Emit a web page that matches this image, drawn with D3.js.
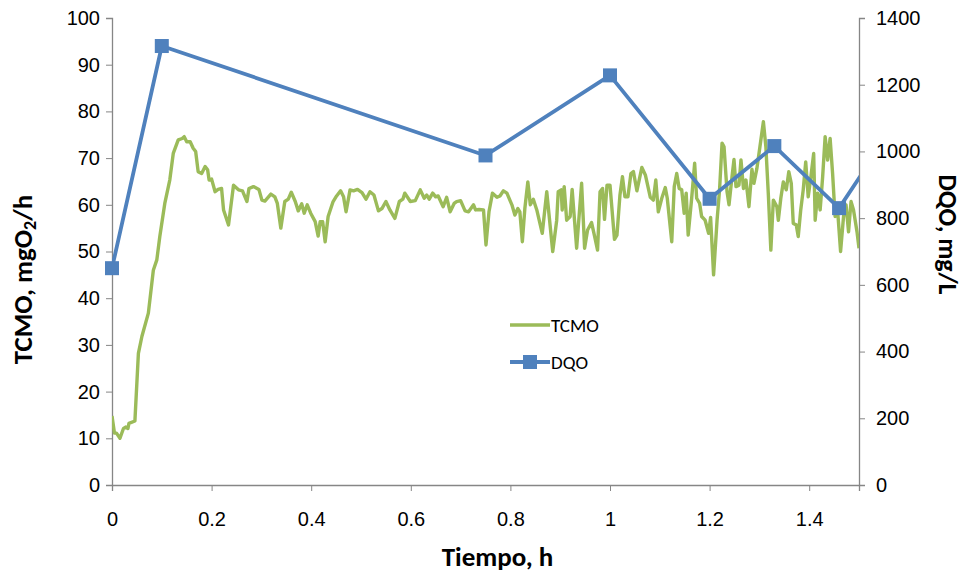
<!DOCTYPE html>
<html>
<head>
<meta charset="utf-8">
<script src="https://cdn.jsdelivr.net/npm/d3@7"></script>
<style>
  body { margin: 0; background: #fff; }
  svg { font-family: Carlito, "Open Sans", "Liberation Sans", sans-serif; }
  .axis path, .axis line { stroke: #868686; }
  .axis text { fill: #000; font-size: 20px; }
</style>
</head>
<body>
<svg id="chart" width="965" height="574"></svg>
<script>
// TCMO (mgO2/h) vs time (h)
const tcmoTime = [
  0.000, 0.005, 0.009, 0.016, 0.023, 0.028, 0.032, 0.034, 0.046, 0.053,
  0.060, 0.073, 0.083, 0.090, 0.096, 0.106, 0.116, 0.123, 0.133, 0.141,
  0.145, 0.150, 0.157, 0.163, 0.168, 0.173, 0.180, 0.187, 0.192, 0.195,
  0.200, 0.207, 0.213, 0.220, 0.224, 0.234, 0.244, 0.254, 0.262, 0.271,
  0.275, 0.284, 0.295, 0.301, 0.307, 0.319, 0.327, 0.332, 0.339, 0.347,
  0.354, 0.360, 0.368, 0.374, 0.381, 0.386, 0.392, 0.399, 0.408, 0.414,
  0.418, 0.423, 0.428, 0.434, 0.444, 0.451, 0.459, 0.465, 0.470, 0.478,
  0.485, 0.493, 0.502, 0.510, 0.518, 0.526, 0.535, 0.542, 0.550, 0.558,
  0.568, 0.577, 0.584, 0.588, 0.599, 0.609, 0.619, 0.627, 0.632, 0.637,
  0.644, 0.650, 0.655, 0.665, 0.672, 0.679, 0.687, 0.692, 0.700, 0.709,
  0.716, 0.726, 0.730, 0.737, 0.746, 0.751, 0.757, 0.764, 0.773, 0.779,
  0.786, 0.793, 0.803, 0.809, 0.815, 0.819, 0.824, 0.829, 0.835, 0.840,
  0.846, 0.853, 0.864, 0.873, 0.880, 0.885, 0.893, 0.896, 0.902, 0.904,
  0.908, 0.913, 0.920, 0.924, 0.933, 0.943, 0.949, 0.955, 0.963, 0.969,
  0.975, 0.980, 0.985, 0.989, 0.994, 1.000, 1.009, 1.014, 1.020, 1.025,
  1.030, 1.036, 1.042, 1.047, 1.054, 1.064, 1.071, 1.081, 1.087, 1.092,
  1.097, 1.104, 1.111, 1.115, 1.124, 1.129, 1.134, 1.139, 1.144, 1.149,
  1.153, 1.157, 1.164, 1.170, 1.174, 1.180, 1.184, 1.191, 1.198, 1.202,
  1.208, 1.215, 1.220, 1.225, 1.229, 1.235, 1.239, 1.245, 1.249, 1.253,
  1.259, 1.263, 1.268, 1.273, 1.279, 1.285, 1.289, 1.295, 1.301, 1.308,
  1.313, 1.318, 1.323, 1.328, 1.335, 1.338, 1.343, 1.348, 1.354, 1.359,
  1.364, 1.368, 1.374, 1.378, 1.383, 1.388, 1.393, 1.398, 1.403, 1.409,
  1.412, 1.417, 1.422, 1.427, 1.432, 1.437, 1.442, 1.447, 1.452, 1.457,
  1.463, 1.469, 1.474, 1.479, 1.484, 1.489, 1.496, 1.500
]
const tcmoValues = [
  14.8, 11.1, 11.1, 10.0, 12.1, 12.4, 12.1, 13.2, 13.7, 28.2,
  31.8, 36.8, 46.0, 48.2, 53.2, 60.3, 65.3, 71.0, 73.9, 74.2,
  74.6, 73.5, 73.5, 72.1, 71.4, 67.1, 66.7, 68.2, 67.5, 65.3,
  65.5, 62.8, 63.3, 63.5, 58.9, 55.7, 64.2, 63.2, 63.0, 60.7,
  63.5, 63.9, 63.3, 61.0, 60.8, 62.3, 61.7, 60.3, 55.0, 60.7,
  61.2, 62.7, 60.7, 58.7, 60.2, 58.2, 60.0, 58.2, 56.4, 53.3,
  56.4, 56.4, 52.1, 57.5, 60.7, 61.9, 63.0, 61.7, 58.5, 63.2,
  63.0, 63.3, 62.6, 61.2, 62.8, 62.1, 58.7, 59.2, 60.7, 58.9,
  57.1, 60.7, 61.2, 62.5, 60.7, 60.9, 63.2, 61.4, 62.1, 61.2,
  62.5, 61.7, 61.9, 59.6, 61.6, 58.5, 60.3, 60.7, 60.9, 58.7,
  58.5, 60.0, 58.9, 59.0, 58.9, 51.4, 58.5, 62.5, 61.6, 61.9,
  63.0, 62.5, 60.0, 57.8, 59.2, 58.5, 52.1, 59.2, 64.9, 60.0,
  61.2, 58.9, 53.9, 62.8, 55.3, 50.0, 56.7, 62.8, 63.2, 58.9,
  63.9, 56.7, 57.5, 63.3, 50.7, 64.6, 50.7, 54.6, 56.2, 53.3,
  50.3, 62.8, 63.5, 56.9, 64.2, 64.2, 52.6, 53.5, 62.1, 66.0,
  61.7, 61.7, 66.7, 67.1, 63.0, 68.0, 66.4, 61.6, 61.0, 65.3,
  58.5, 61.4, 63.7, 61.4, 52.1, 63.9, 66.7, 63.5, 63.2, 58.2,
  62.5, 53.5, 61.4, 68.9, 61.4, 60.3, 57.5, 56.7, 53.9, 57.3,
  45.0, 56.7, 63.2, 73.2, 72.4, 62.8, 60.0, 66.0, 69.7, 63.9,
  64.2, 69.6, 63.5, 65.3, 59.6, 67.6, 64.6, 67.8, 72.4, 77.8,
  72.4, 62.1, 50.3, 61.0, 59.6, 56.7, 61.4, 64.9, 63.2, 67.1,
  64.6, 56.0, 55.7, 53.2, 58.9, 63.2, 69.2, 61.7, 65.7, 71.0,
  56.7, 62.5, 58.9, 66.0, 74.6, 69.6, 74.2, 66.7, 57.5, 58.9,
  50.0, 57.5, 60.0, 54.2, 60.7, 58.9, 54.2, 50.7
]

// DQO (mg/L) samples; the last one lies past the end of the axis
const dqoTime = [0, 0.1, 0.75, 1.0, 1.2, 1.33, 1.46, 1.58]
const dqoValues = [650, 1316, 988, 1228, 858, 1016, 830, 1100]

const xTicks = [0, 0.2, 0.4, 0.6, 0.8, 1, 1.2, 1.4]
const leftTicks = [0, 10, 20, 30, 40, 50, 60, 70, 80, 90, 100]
const rightTicks = [0, 200, 400, 600, 800, 1000, 1200, 1400]

const green = '#9BBB59'
const blue = '#4F81BD'

const margin = { top: 18, right: 106, bottom: 89, left: 112 }
const width = 965
const height = 574
const innerW = width - margin.left - margin.right
const innerH = height - margin.top - margin.bottom

const svg = d3.select('#chart')

const x = d3.scaleLinear().domain([0, 1.5]).range([0, innerW])
const yL = d3.scaleLinear().domain([0, 100]).range([innerH, 0])
const yR = d3.scaleLinear().domain([0, 1400]).range([innerH, 0])

const g = svg.append('g')
  .attr('transform', `translate(${margin.left},${margin.top})`)

g.append('defs').append('clipPath')
  .attr('id', 'plot-clip')
  .append('rect')
  .attr('x', 0)
  .attr('y', -10)
  .attr('width', innerW)
  .attr('height', innerH + 10)

// axes
const fmtX = d => String(+d.toFixed(1))

g.append('g')
  .attr('class', 'axis')
  .attr('transform', `translate(0,${innerH})`)
  .call(d3.axisBottom(x).tickValues(xTicks).tickFormat(fmtX).tickSizeOuter(0).tickSize(6).tickPadding(21))

g.append('g')
  .attr('class', 'axis')
  .call(d3.axisLeft(yL).tickValues(leftTicks).tickFormat(d => String(d)).tickSizeOuter(0).tickSize(6).tickPadding(6))

g.append('g')
  .attr('class', 'axis')
  .attr('transform', `translate(${innerW},0)`)
  .call(d3.axisRight(yR).tickValues(rightTicks).tickFormat(d => String(d)).tickSizeOuter(0).tickSize(6).tickPadding(11))

g.selectAll('.axis .domain').attr('stroke-width', 1.3)

// series
const plot = g.append('g').attr('clip-path', 'url(#plot-clip)')

const tcmo = tcmoTime.map((t, i) => ({ t, v: tcmoValues[i] }))
const dqo = dqoTime.map((t, i) => ({ t, v: dqoValues[i] }))

plot.append('path')
  .attr('fill', 'none')
  .attr('stroke', green)
  .attr('stroke-width', 3.4)
  .attr('stroke-linejoin', 'round')
  .attr('d', d3.line().x(d => x(d.t)).y(d => yL(d.v))(tcmo))

plot.append('path')
  .attr('fill', 'none')
  .attr('stroke', blue)
  .attr('stroke-width', 3.8)
  .attr('stroke-linejoin', 'round')
  .attr('d', d3.line().x(d => x(d.t)).y(d => yR(d.v))(dqo))

const ms = 14
g.append('g').selectAll('rect')
  .data(dqo.filter(d => d.t <= 1.5))
  .join('rect')
  .attr('x', d => x(d.t) - ms / 2)
  .attr('y', d => yR(d.v) - ms / 2)
  .attr('width', ms)
  .attr('height', ms)
  .attr('fill', blue)

// axis titles
const titleFont = 'bold 27px Carlito, "Open Sans", "Liberation Sans", sans-serif'

const lt = svg.append('text')
  .attr('transform', `translate(32,${margin.top + innerH / 2 + 28}) rotate(-90)`)
  .attr('text-anchor', 'middle')
  .style('font', titleFont)
lt.append('tspan').text('TCMO, mgO')
lt.append('tspan').attr('font-size', 18).attr('dy', 4).text('2')
lt.append('tspan').attr('dy', -4).text('/h')

svg.append('text')
  .attr('transform', `translate(939,${margin.top + innerH / 2 - 17}) rotate(90)`)
  .attr('text-anchor', 'middle')
  .style('font', 'bold 26px Carlito, "Open Sans", "Liberation Sans", sans-serif')
  .text('DQO, mg/L')

svg.append('text')
  .attr('x', margin.left + innerW / 2 + 12)
  .attr('y', 566)
  .attr('text-anchor', 'middle')
  .style('font', titleFont)
  .text('Tiempo, h')

// legend
const legend = svg.append('g').attr('transform', 'translate(510,325)')
const items = [
  { name: 'TCMO', color: green, marker: false },
  { name: 'DQO', color: blue, marker: true }
]
items.forEach((it, i) => {
  const row = legend.append('g').attr('transform', `translate(0,${i * 37})`)
  row.append('line')
    .attr('x1', 0).attr('x2', 40)
    .attr('stroke', it.color)
    .attr('stroke-width', it.marker ? 3.8 : 3.4)
  if (it.marker) {
    row.append('rect')
      .attr('x', 20 - ms / 2).attr('y', -ms / 2)
      .attr('width', ms).attr('height', ms)
      .attr('fill', it.color)
  }
  row.append('text')
    .attr('x', 41)
    .attr('dy', '0.35em')
    .style('font-size', '19px')
    .text(it.name)
})
</script>
</body>
</html>
